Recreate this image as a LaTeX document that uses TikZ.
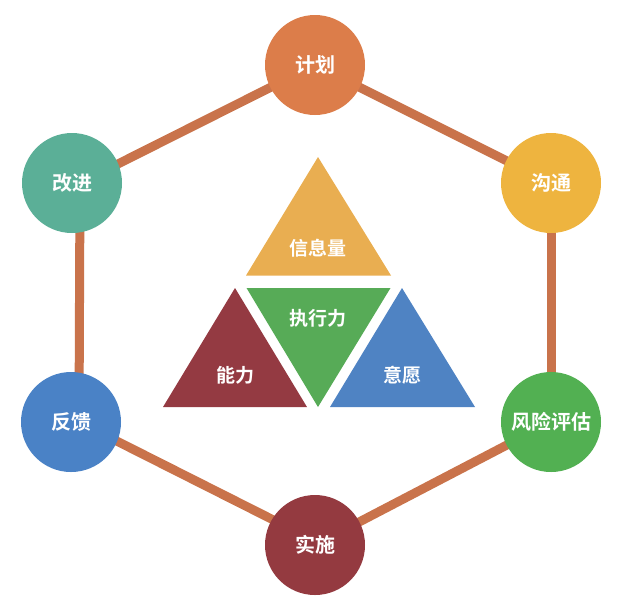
\documentclass[tikz,border=0pt]{standalone}
\usepackage{fontspec}
\usetikzlibrary{backgrounds}
\newfontfamily\cjk{Noto Sans CJK SC}[BoldFont={Noto Sans CJK SC Bold}]
\definecolor{cJihua}{HTML}{DC7D4A}
\definecolor{cGoutong}{HTML}{EEB43F}
\definecolor{cFengxian}{HTML}{52B052}
\definecolor{cShishi}{HTML}{943A40}
\definecolor{cFankui}{HTML}{4A82C6}
\definecolor{cGaijin}{HTML}{5BAF97}
\definecolor{cXinxi}{HTML}{E9AE51}
\definecolor{cZhixing}{HTML}{57AB57}
\definecolor{cNengli}{HTML}{943A42}
\definecolor{cYiyuan}{HTML}{4F83C3}
\definecolor{cLine}{HTML}{C9734B}
\tikzset{
  stage/.style={circle, minimum size=100pt, inner sep=0pt, text=white,
    font=\cjk\bfseries\fontsize{20pt}{23pt}\selectfont},
  tritext/.style={text=white, inner sep=0pt, font=\cjk\bfseries\fontsize{19pt}{22pt}\selectfont},
  link/.style={draw=cLine, line width=9pt}
}
\begin{document}
\begin{tikzpicture}[x=1pt,y=-1pt]
\useasboundingbox (0,0) rectangle (628,606);
% circles
\node[stage, fill=cJihua]    (jihua)    at (315,65)  {计划};
\node[stage, fill=cGoutong]  (goutong)  at (551,183) {沟通};
\node[stage, fill=cFengxian] (fengxian) at (551,422) {风险评估};
\node[stage, fill=cShishi]   (shishi)   at (315,545) {实施};
\node[stage, fill=cFankui]   (fankui)   at (71,422)  {反馈};
\node[stage, fill=cGaijin]   (gaijin)   at (72,183)  {改进};
% links (behind the circles)
\begin{scope}[on background layer]
\draw[link] (jihua.center) -- (goutong.center);
\draw[link] (goutong.center) -- (fengxian.center);
\draw[link] (fengxian.center) -- (shishi.center);
\draw[link] ([xshift=8pt]shishi.center) -- ([xshift=8pt]fankui.center);
\draw[link] ([xshift=8pt]fankui.center) -- ([xshift=8pt]gaijin.center);
\draw[link] ([xshift=8pt]gaijin.center) -- (jihua.center);
\end{scope}
% triangles
\fill[cXinxi]   (318,157) -- (391,275.5) -- (246,275.5) -- cycle;
\fill[cZhixing] (246.5,288) -- (390.5,288) -- (318,407) -- cycle;
\fill[cNengli]  (235,288) -- (307,407) -- (163,407) -- cycle;
\fill[cYiyuan]  (402,288) -- (475,407) -- (330,407) -- cycle;
\node[tritext] (xinxi)   at (318,248) {信息量};
\node[tritext] (zhixing) at (318,318) {执行力};
\node[tritext] (nengli)  at (235,375) {能力};
\node[tritext] (yiyuan)  at (402,375) {意愿};
\end{tikzpicture}
\end{document}
